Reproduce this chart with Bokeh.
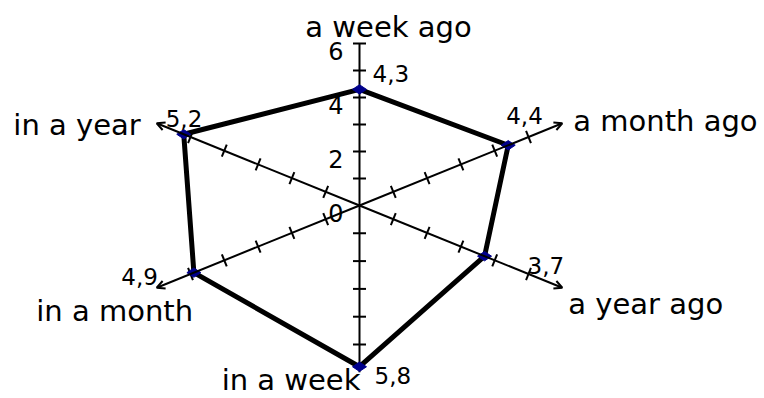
import math
from bokeh.plotting import figure
from bokeh.models import Range1d, ColumnDataSource, Arrow, OpenHead
from bokeh.core.properties import value
from bokeh.embed import file_html
from bokeh.resources import INLINE

# ---- data ----
categories = ["a week ago", "a month ago", "a year ago", "in a week", "in a month", "in a year"]
values = [4.3, 4.4, 3.7, 5.8, 4.9, 5.2]
value_labels = ["4,3", "4,4", "3,7", "5,8", "4,9", "5,2"]
axis_max = 6
tick_values = [1, 2, 3, 4, 5]
scale_tick_values = [0, 2, 4, 6]
scale_tick_labels = ["0", "2", "4", "6"]

# ---- geometry / style (pixels per unit along each spoke, y up) ----
dir_x = [0, 33.8, 33.8, 0, -33.8, -33.8]
dir_y = [27.0, 13.7, -13.7, -27.8, -13.7, 13.7]
has_arrow = [False, True, True, False, True, True]
# label offsets (px) from the point / from the spoke end
val_off_x = [13, -2, 43, 15, -36, -18]
val_off_y = [16, 30, -9, -9, -4, 16]
val_align = ["left", "left", "left", "left", "right", "left"]
cat_off_x = [29, 11, 6, 1, -42, -16]
cat_off_y = [17, 2, -16, -8, -23, -2]
cat_align = ["center", "left", "left", "right", "center", "right"]

FONT = "DejaVu Sans"

p = figure(width=764, height=398, output_backend="svg", toolbar_location=None,
           x_range=Range1d(-359, 405), y_range=Range1d(-193, 205),
           min_border=0, outline_line_color=None)
p.axis.visible = False
p.grid.visible = False
p.background_fill_color = "white"

# spokes
for i in range(len(categories)):
    xe, ye = axis_max * dir_x[i], axis_max * dir_y[i]
    if has_arrow[i]:
        p.add_layout(Arrow(x_start=0, y_start=0, x_end=xe, y_end=ye,
                           line_width=2, line_color="black",
                           end=OpenHead(size=8, line_width=2, line_color="black")))
    else:
        p.segment(x0=[0], y0=[0], x1=[xe], y1=[ye], line_width=2, line_color="black")

# tick marks
tx, ty = [], []
for i in range(len(categories)):
    n = math.hypot(dir_x[i], dir_y[i])
    ux, uy = dir_x[i] / n, dir_y[i] / n
    px, py = -uy, ux
    tv = tick_values + ([axis_max] if i == 0 else [])
    for t in tv:
        mx, my = t * dir_x[i], t * dir_y[i]
        tx.append([mx - 6.5 * px, mx + 6.5 * px])
        ty.append([my - 6.5 * py, my + 6.5 * py])
p.multi_line(xs=tx, ys=ty, line_width=2, line_color="black")

# scale labels on the upper vertical spoke
p.text(x=[-16] * len(scale_tick_values),
       y=[v * dir_y[0] - 7 for v in scale_tick_values],
       text=scale_tick_labels, text_font=value(FONT), text_font_size="24px",
       text_align="right", text_baseline="middle", text_color="black")

# data polygon
px_ = [v * dx for v, dx in zip(values, dir_x)]
py_ = [v * dy for v, dy in zip(values, dir_y)]
p.line(x=px_ + px_[:1], y=py_ + py_[:1], line_width=5, line_color="black", line_join="round")
p.scatter(x=px_, y=py_, marker="diamond", size=14, angle=math.pi / 2,
          fill_color="#00008B", line_color="#00008B")

# value labels
vsrc = ColumnDataSource(dict(
    x=[a + b for a, b in zip(px_, val_off_x)],
    y=[a + b for a, b in zip(py_, val_off_y)],
    t=value_labels, al=val_align))
p.text(x="x", y="y", text="t", text_align="al", source=vsrc,
       text_font=value(FONT), text_font_size="23px", text_baseline="middle",
       text_color="black")

# category labels
csrc = ColumnDataSource(dict(
    x=[axis_max * dx + o for dx, o in zip(dir_x, cat_off_x)],
    y=[axis_max * dy + o for dy, o in zip(dir_y, cat_off_y)],
    t=categories, al=cat_align))
p.text(x="x", y="y", text="t", text_align="al", source=csrc,
       text_font=value(FONT), text_font_size="29px", text_baseline="alphabetic",
       text_color="black")

open("out.html", "w").write(file_html(p, INLINE))
